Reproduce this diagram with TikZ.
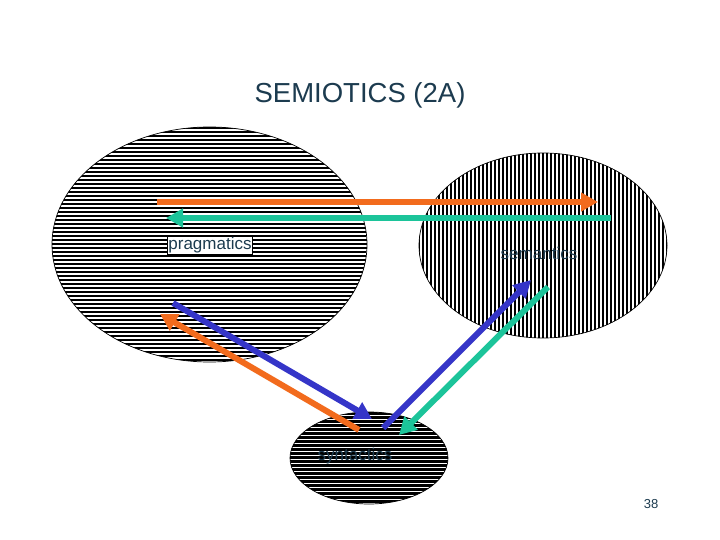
\documentclass[tikz,border=0pt]{standalone}
\usepackage{fontspec}
\setmainfont{Liberation Sans}
\usetikzlibrary{shapes.geometric,arrows.meta}
\definecolor{txt}{HTML}{1C3B4F}
\definecolor{ora}{HTML}{F26B1D}
\definecolor{grn}{HTML}{1CC49A}
\definecolor{blu}{HTML}{3535C8}
\tikzset{
  blob/.style={ellipse, draw=black, line width=0.7pt, inner sep=0pt},
  hstripes/.style n args={3}{path picture={
    \foreach \k in {-35,...,35}
      \draw[line width=#1] ([yshift=\k*#2 pt+#3 pt]path picture bounding box.west) -- ([yshift=\k*#2 pt+#3 pt]path picture bounding box.east);}},
  vstripes/.style 2 args={path picture={
    \foreach \k in {-35,...,35}
      \draw[line width=#1] ([xshift=\k*#2 pt]path picture bounding box.south) -- ([xshift=\k*#2 pt]path picture bounding box.north);}},
  lbl/.style={text=txt, font=\fontsize{17}{20}\selectfont, inner sep=1pt},
  arr/.style={line width=6pt, -{Triangle[length=17pt,width=18pt]}},
}
\begin{document}
\begin{tikzpicture}[x=1pt,y=-1pt]
\useasboundingbox[fill=white] (0,0) rectangle (720,540);
\node[text=txt, font=\fontsize{27.5}{31}\selectfont] (title) at (360,95) {SEMIOTICS (2A)};
\node[blob, minimum width=315pt, minimum height=235pt, hstripes={2pt}{4}{0.5}] (prag) at (209.5,244.5) {};
\node[blob, minimum width=248pt, minimum height=185pt, vstripes={2pt}{4}] (sem) at (543,245.5) {};
\node[blob, minimum width=158pt, minimum height=92pt, hstripes={3pt}{4}{0.5}] (syn) at (369,458) {};
\node[lbl, fill=white, draw=black, line width=0.5pt] (pragl) at (210,245) {pragmatics};
\node[lbl] (seml) at (539,253) {semantics};
\node[lbl] (synl) at (355,456) {syntactics};
\node[text=txt, font=\fontsize{13}{15}\selectfont] (num) at (651,504) {38};
% arrow end points
\coordinate (a1s) at (157,202); \coordinate (a1e) at (598,202);
\coordinate (a2s) at (611,218); \coordinate (a2e) at (166,218);
\coordinate (a3s) at (173,303); \coordinate (a3e) at (372,419);
\coordinate (a4s) at (359,430); \coordinate (a4e) at (160,314);
\coordinate (a5s) at (383,428); \coordinate (a5e) at (531,280);
\coordinate (a6s) at (548,287); \coordinate (a6e) at (399,435);
\draw[arr, ora] (a1s) -- (a1e);
\draw[arr, grn] (a2s) -- (a2e);
\draw[arr, blu] (a3s) -- (a3e);
\draw[arr, ora] (a4s) -- (a4e);
\draw[arr, blu] (a5s) -- (a5e);
\draw[arr, grn] (a6s) -- (a6e);
\end{tikzpicture}
\end{document}
